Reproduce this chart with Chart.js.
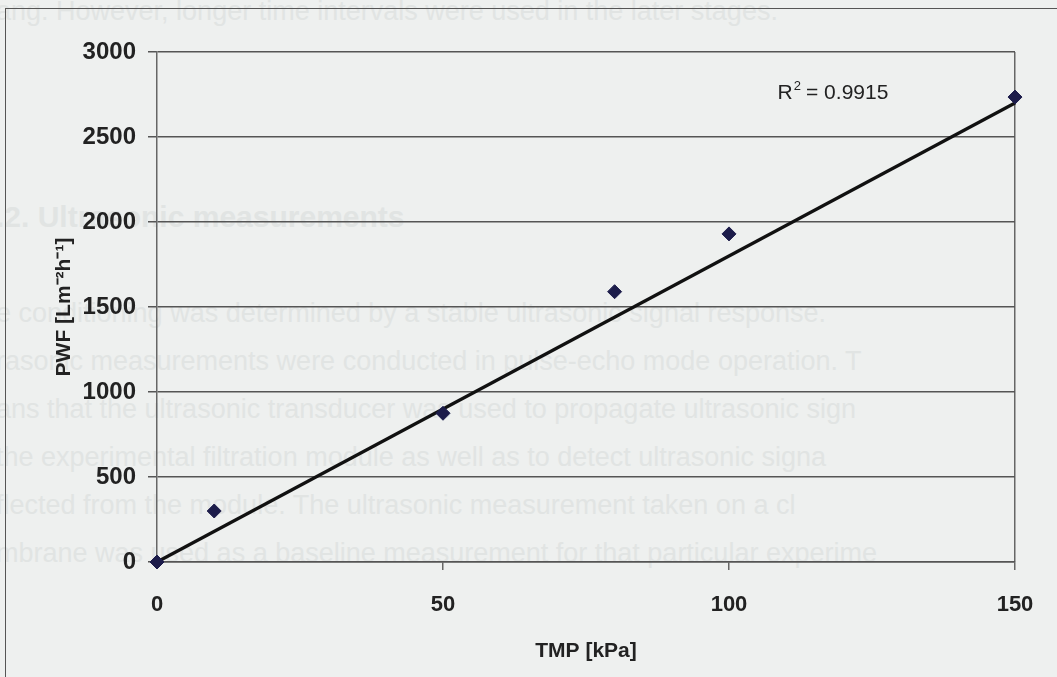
<!DOCTYPE html>
<html><head><meta charset="utf-8">
<script src="https://cdn.jsdelivr.net/npm/chart.js@4/dist/chart.umd.min.js"></script>
<style>
html,body{margin:0;padding:0;background:#eef0ef;width:1057px;height:677px;overflow:hidden;}
#bg{position:absolute;left:0;top:0;width:1057px;height:677px;font-family:"Liberation Sans",Arial,sans-serif;color:#e1e4e3;font-size:27px;white-space:nowrap;}
#bg div{position:absolute;left:-4px;}
#frame{position:absolute;left:5px;top:8px;width:1100px;height:700px;border-left:1.5px solid #555;border-top:1.5px solid #555;}
#wrap{position:absolute;left:0;top:0;width:1057px;height:677px;}
</style></head>
<body>
<div id="bg">
<div style="top:-4px">ang. However, longer time intervals were used in the later stages.</div>
<div style="top:200px;font-weight:bold;font-size:30px">.2. Ultrasonic measurements</div>
<div style="top:298px">e conditioning was determined by a stable ultrasonic signal response.</div>
<div style="top:346px">rasonic measurements were conducted in pulse-echo mode operation. T</div>
<div style="top:394px">ans that the ultrasonic transducer was used to propagate ultrasonic sign</div>
<div style="top:442px">the experimental filtration module as well as to detect ultrasonic signa</div>
<div style="top:490px">flected from the module. The ultrasonic measurement taken on a cl</div>
<div style="top:538px">mbrane was used as a baseline measurement for that particular experime</div>
</div>
<div id="frame"></div>
<div id="wrap"><canvas id="c" width="1057" height="677"></canvas></div>
<script>
const tmp = [0, 10, 50, 80, 100, 150];
const pwf = [0, 300, 875, 1590, 1930, 2735];
const trendX = [0, 150];
const trendY = [0, 2700];
const yTicks = [0, 500, 1000, 1500, 2000, 2500, 3000];
const xTicks = [0, 50, 100, 150];
const r2Label = "0.9915";

const font = "'Liberation Sans', Arial, sans-serif";

const r2Plugin = {
  id: 'r2',
  afterDatasetsDraw(chart) {
    const {ctx, scales} = chart;
    const x = scales.x.getPixelForValue(108.5);
    const y = scales.y.getPixelForValue(2725);
    ctx.save();
    ctx.fillStyle = '#222';
    ctx.textBaseline = 'alphabetic';
    ctx.textAlign = 'left';
    ctx.font = "21px " + font;
    ctx.fillText('R', x, y);
    let w = ctx.measureText('R').width;
    ctx.font = "13px " + font;
    ctx.fillText('2', x + w + 1, y - 9);
    w += ctx.measureText('2').width + 6;
    ctx.font = "21px " + font;
    ctx.fillText('= ' + r2Label, x + w, y);
    ctx.restore();
  }
};

new Chart(document.getElementById('c'), {
  type: 'scatter',
  data: {
    datasets: [
      {
        type: 'line',
        data: trendX.map((v, i) => ({x: v, y: trendY[i]})),
        borderColor: '#111',
        borderWidth: 3.2,
        pointRadius: 0,
        fill: false,
        clip: false,
        order: 2
      },
      {
        data: tmp.map((v, i) => ({x: v, y: pwf[i]})),
        backgroundColor: '#1c1c4a',
        borderColor: '#1c1c4a',
        pointStyle: 'rectRot',
        pointRadius: 7,
        clip: false,
        order: 1
      }
    ]
  },
  options: {
    responsive: false,
    animation: false,
    layout: {padding: {top: 52, right: 42, left: 48, bottom: 0}},
    plugins: {legend: {display: false}, tooltip: {enabled: false}},
    scales: {
      x: {
        type: 'linear', min: 0, max: 150,
        afterBuildTicks: s => { s.ticks = xTicks.map(v => ({value: v})); },
        afterFit: s => { s.height = 115; },
        grid: {
          drawOnChartArea: true,
          color: c => (c.tick && c.tick.value === 150) ? '#666' : 'rgba(0,0,0,0)',
          tickColor: c => (c.tick && c.tick.value === 0) ? 'rgba(0,0,0,0)' : '#666',
          tickLength: 8,
          lineWidth: 1.5
        },
        border: {display: true, color: '#555', width: 1.5},
        ticks: {color: '#222', font: {family: font, size: 22, weight: 'bold'}, padding: 22, maxRotation: 0,
                callback: v => String(v)},
        title: {display: true, text: 'TMP [kPa]', color: '#222', font: {family: font, size: 21, weight: 'bold'}, padding: {top: 4, bottom: 13}}
      },
      y: {
        min: 0, max: 3000,
        afterBuildTicks: s => { s.ticks = yTicks.map(v => ({value: v})); },
        afterFit: s => { s.width = 109; },
        grid: {color: '#555', lineWidth: 1.5, tickLength: 9, tickColor: '#555'},
        border: {display: true, color: '#666', width: 1.5},
        ticks: {color: '#222', font: {family: font, size: 24, weight: 'bold'}, padding: 12,
                callback: v => String(v)},
        title: {display: true, text: 'PWF [Lm⁻²h⁻¹]', color: '#222', font: {family: font, size: 21, weight: 'bold'}, padding: {bottom: 6}}
      }
    }
  },
  plugins: [r2Plugin]
});
</script>
</body></html>
